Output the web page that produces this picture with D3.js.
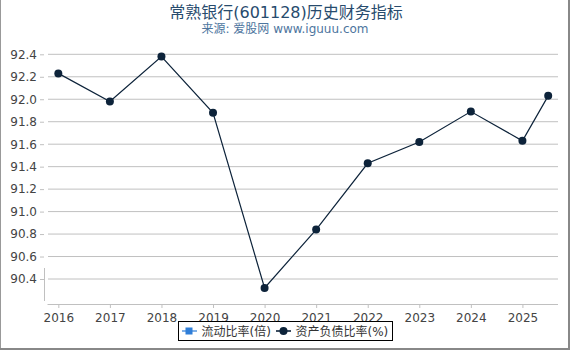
<!DOCTYPE html>
<html>
<head>
<meta charset="utf-8">
<script src="https://cdn.jsdelivr.net/npm/d3@7"></script>
<style>
  body { margin: 0; padding: 0; background: #fff; }
  svg { display: block; font-family: "DejaVu Sans", "Noto Sans CJK SC", sans-serif; }
</style>
</head>
<body>
<svg id="chart" width="570" height="350"></svg>
<script>
// values
const tickYears = [2016, 2017, 2018, 2019, 2020, 2021, 2022, 2023, 2024, 2025];
const pointX = [2016, 2017, 2018, 2019, 2020, 2021, 2022, 2023, 2024, 2025, 2025.5];
const debtRatio = [92.23, 91.98, 92.38, 91.88, 90.32, 90.84, 91.43, 91.62, 91.89, 91.63, 92.03];
const yTicks = [90.4, 90.6, 90.8, 91.0, 91.2, 91.4, 91.6, 91.8, 92.0, 92.2, 92.4];
const legendNames = ["流动比率(倍)", "资产负债比率(%)"];
const seriesColors = ["#2f7ed8", "#0d233a"];

const svg = d3.select("#chart");
const W = 570, H = 350;
const left = 44.4, right = 558, bottom = 304;

// frame (shadow-like gray edges)
svg.append("rect").attr("x", 0).attr("y", 0).attr("width", 1).attr("height", H).attr("fill", "#999");
svg.append("rect").attr("x", W - 2).attr("y", 0).attr("width", 2).attr("height", H).attr("fill", "#888");
svg.append("rect").attr("x", 0).attr("y", H - 2).attr("width", W).attr("height", 2).attr("fill", "#888");

// titles
svg.append("text")
    .attr("x", 286).attr("y", 18)
    .attr("text-anchor", "middle")
    .style("font-size", "16px")
    .attr("fill", "#274b6d")
    .text("常熟银行(601128)历史财务指标");
svg.append("text")
    .attr("x", 285).attr("y", 33)
    .attr("text-anchor", "middle")
    .style("font-size", "12px")
    .attr("fill", "#4d759e")
    .text("来源: 爱股网 www.iguuu.com");

const x = d3.scaleLinear().domain([2015.73, 2025.69]).range([left, right]);
const y = d3.scaleLinear().domain([90.4, 92.4]).range([279, 54.3]);

// grid lines + y labels
const yAxis = svg.append("g").attr("transform", "translate(44,0)")
    .call(d3.axisLeft(y).tickValues(yTicks).tickFormat(d3.format(".1f")).tickSize(4).tickPadding(3));
yAxis.select(".domain").remove();
yAxis.selectAll(".tick line").attr("stroke", "#c0c0c0");
yAxis.selectAll(".tick text").attr("fill", "#444").style("font-size", "12px").style("font-family", "DejaVu Sans");

svg.append("g").selectAll("line")
    .data(yTicks)
    .enter()
    .append("line")
    .attr("x1", 48).attr("x2", right)
    .attr("y1", d => y(d)).attr("y2", d => y(d))
    .attr("stroke", "#c0c0c0");

// short y axis line near bottom
svg.append("line")
    .attr("x1", 44.5).attr("x2", 44.5)
    .attr("y1", 268).attr("y2", 301)
    .attr("stroke", "#c0c0c0");

// x axis
const xAxis = svg.append("g").attr("transform", "translate(0," + bottom + ")")
    .call(d3.axisBottom(x).tickValues(tickYears).tickFormat(d3.format("d")).tickSize(4).tickPadding(5));
xAxis.select(".domain").attr("d", "M" + 47.5 + ",0.5H" + right).attr("stroke", "#c0c0c0");
xAxis.selectAll(".tick line").attr("stroke", "#c0c0c0");
xAxis.selectAll(".tick text").attr("fill", "#444").style("font-size", "12px").style("font-family", "DejaVu Sans");

// series line
const line = d3.line().x((d, i) => x(pointX[i])).y(d => y(d));
svg.append("path")
    .datum(debtRatio)
    .attr("d", line)
    .attr("fill", "none")
    .attr("stroke", seriesColors[1])
    .attr("stroke-width", 1.2);

svg.selectAll("circle.pt")
    .data(debtRatio)
    .enter()
    .append("circle")
    .attr("class", "pt")
    .attr("cx", (d, i) => x(pointX[i]))
    .attr("cy", d => y(d))
    .attr("r", 4)
    .attr("fill", seriesColors[1]);

// legend
const legend = svg.append("g");
legend.append("rect")
    .attr("x", 178.5).attr("y", 321.5)
    .attr("width", 214).attr("height", 19)
    .attr("fill", "#fff").attr("stroke", "#000");

const itemX = [182, 276];
legendNames.forEach((name, i) => {
    const g = legend.append("g").attr("transform", "translate(" + itemX[i] + ",331)");
    g.append("line").attr("x1", 0).attr("x2", 15).attr("y1", 0).attr("y2", 0)
        .attr("stroke", seriesColors[i]).attr("stroke-width", 2).attr("opacity", i === 0 ? 0.6 : 0.8);
    if (i === 0) {
        g.append("rect").attr("x", 3.5).attr("y", -3.5).attr("width", 7).attr("height", 7).attr("fill", seriesColors[0]);
    } else {
        g.append("circle").attr("cx", 7.5).attr("cy", 0).attr("r", 4).attr("fill", seriesColors[1]);
    }
    g.append("text")
        .attr("x", 19.5).attr("y", 4.5)
        .style("font-size", "12px")
        .attr("fill", "#333")
        .text(name);
});
</script>
</body>
</html>
